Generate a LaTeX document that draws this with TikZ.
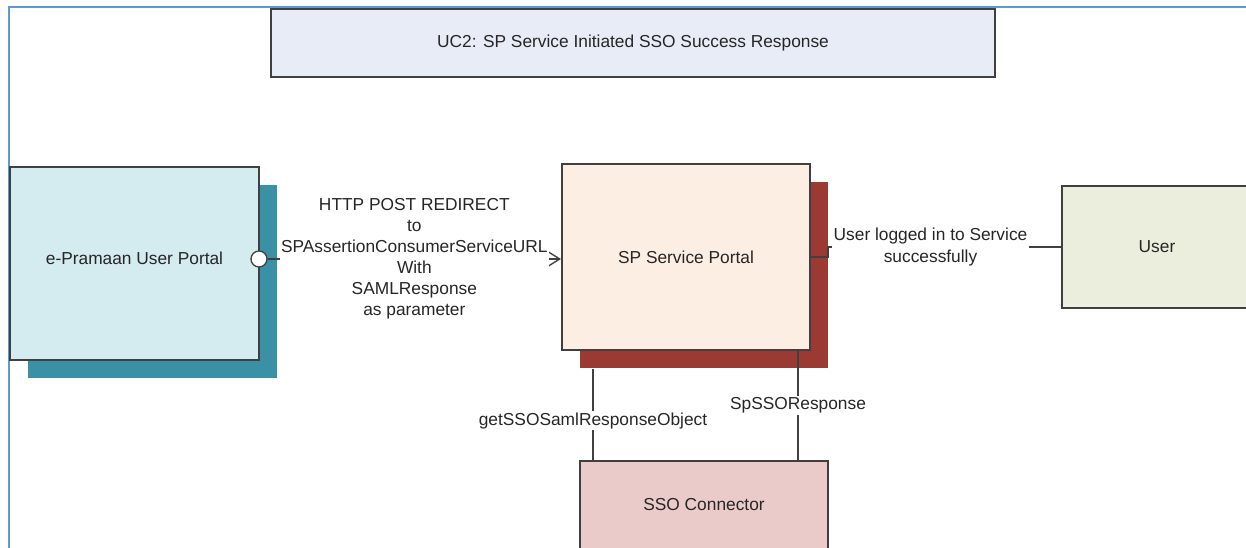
\documentclass[tikz,border=0pt]{standalone}
\usepackage{fontspec}
\setmainfont{Liberation Sans}
\usetikzlibrary{arrows.meta,shadows}
\definecolor{frameblue}{HTML}{5B9BD5}
\definecolor{edge}{HTML}{404040}
\definecolor{ink}{HTML}{262626}
\definecolor{titlefill}{HTML}{E8ECF7}
\definecolor{epufill}{HTML}{D4EBF0}
\definecolor{epushade}{HTML}{3A91A6}
\definecolor{spfill}{HTML}{FDEEE4}
\definecolor{spshade}{HTML}{9B3A33}
\definecolor{userfill}{HTML}{EBEEDC}
\definecolor{ssofill}{HTML}{EBCBC9}

\begin{document}
\begin{tikzpicture}[x=0.75pt,y=-0.75pt,
		font=\fontsize{13}{15.8}\selectfont, text=ink,
		box/.style={draw=edge,line width=1.5pt,align=center,inner sep=0pt},
		conn/.style={draw=edge,line width=1pt},
		lbl/.style={fill=white,align=center,inner sep=1pt}]
		\useasboundingbox (0,0) rectangle (1246,548);
		\draw[frameblue,line width=1.5pt] (9,560) -- (9,7) -- (1260,7);
		
		\node[box,fill=titlefill,minimum width=543pt,minimum height=51pt] (title)at(633,43) {UC2: SP Service Initiated SSO Success Response};
		\node[box,fill=epufill,minimum width=186.75pt,minimum height=144.75pt,
			general shadow={fill=epushade,shadow xshift=13.5pt,shadow yshift=-13.5pt}] (epu)at(134.5,263.5) {e-Pramaan User Portal\\[-8pt]};
		\node[box,fill=spfill,minimum width=186pt,minimum height=139.5pt,
			general shadow={fill=spshade,shadow xshift=13.5pt,shadow yshift=-13.5pt}] (sp)at(686,257) {SP Service Portal};
		\node[box,fill=userfill,minimum width=142.5pt,minimum height=91.5pt] (user)at(1157,247) {User};
		\node[box,fill=ssofill,minimum width=186pt,minimum height=66pt] (sso)at(704,505) {SSO Connector};
		\node[draw=edge,line width=1pt,fill=white,circle,minimum size=12pt,inner sep=0pt] (port)at(259,259) {};
		
		\draw[conn,-{Straight Barb[length=12pt,width=15pt,line width=1pt]}] (port) -- node[lbl] {HTTP POST REDIRECT\\to\\SPAssertionConsumerServiceURL\\With\\SAMLResponse\\as parameter} (port -| sp.west);
		\draw[conn] (sp.east) -- ++(17,0) |- node[lbl,pos=0.72] {User logged in to Service\\successfully} (user.west);
		\draw[conn] ([xshift=-69.75pt,yshift=-13.5pt]sp.south) -- node[lbl,pos=0.57] {getSSOSamlResponseObject} ([xshift=-69.75pt]sp.south |- sso.north);
		\draw[conn] ([xshift=84pt]sp.south) -- node[lbl] {SpSSOResponse} ([xshift=84pt]sp.south |- sso.north);
	\end{tikzpicture}
\end{document}
